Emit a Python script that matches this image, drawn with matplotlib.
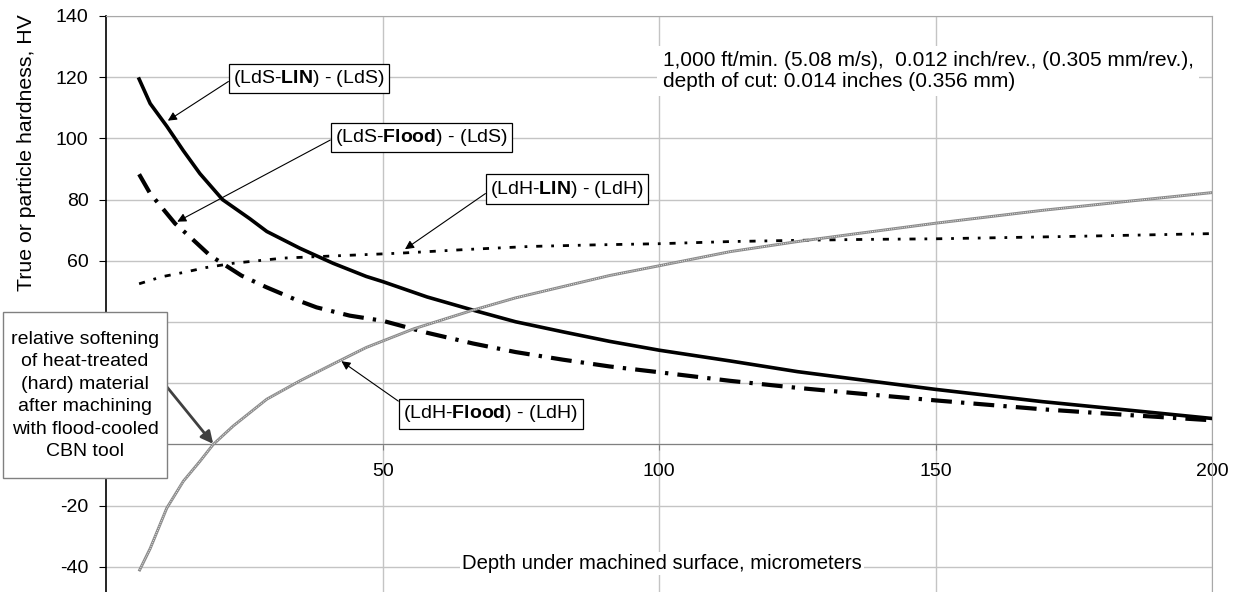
import matplotlib
matplotlib.use('Agg')
import matplotlib.pyplot as plt
from matplotlib.patches import Rectangle

plt.rcParams['font.family'] = ['Liberation Sans', 'DejaVu Sans']
plt.rcParams['mathtext.fontset'] = 'custom'
plt.rcParams['mathtext.rm'] = 'Liberation Sans'
plt.rcParams['mathtext.bf'] = 'Liberation Sans:bold'
plt.rcParams['axes.unicode_minus'] = False

# values (depth in micrometers, hardness difference in HV)
lds_lin_x = [5.9, 7.9, 10.9, 13.9, 16.9, 21, 25.9, 29, 35, 41, 47, 50, 58, 66.3, 74,
             82.6, 91, 100, 112.8, 125, 137, 150, 169.3, 185, 200]
lds_lin_y = [119.4, 111.4, 104, 96, 88.5, 80, 73.8, 69.6, 64.1, 59.2, 54.9, 53.2, 48.2,
             43.9, 40.1, 36.8, 33.7, 30.8, 27.3, 23.8, 21, 18.0, 14.0, 11.2, 8.5]

lds_flood_x = [5.9, 7.9, 10.3, 12.4, 15, 18.7, 24.4, 28.9, 34, 38, 44, 50, 58, 66.3, 74,
               82.6, 91, 100, 112.8, 125, 137, 150, 169.3, 185, 200]
lds_flood_y = [88.3, 82, 76.8, 72.2, 68, 61.8, 55.2, 51.4, 47.5, 44.8, 42.1, 40.4, 36.5,
               33, 30.2, 27.7, 25.5, 23.6, 20.8, 18.5, 16.5, 14.4, 11.5, 9.6, 7.9]

ldh_lin_x = [5.9, 10, 13.9, 18, 22.9, 32, 41, 53, 65, 76.6, 88, 100, 112.8, 125, 137,
             150, 175, 200]
ldh_lin_y = [52.5, 54.8, 56.2, 57.8, 59.2, 60.9, 61.6, 62.5, 63.7, 64.7, 65.2, 65.6,
             66.3, 66.7, 67.0, 67.2, 68.0, 68.9]

ldh_flood_x = [6, 7.9, 10.9, 13.9, 16.9, 19.3, 22.9, 29, 35, 41, 47, 55.6, 66.3, 74,
               82.6, 91, 100, 112.8, 125, 132, 150, 169.3, 185, 200]
ldh_flood_y = [-41, -34, -20.8, -12, -5.5, 0, 6, 14.8, 20.8, 26.3, 31.7, 37.8, 43.9,
               47.9, 51.6, 55.2, 58.4, 63, 66.3, 68, 72.3, 76.5, 79.5, 82.3]

xticks = [50, 100, 150, 200]
yticks = list(range(-40, 141, 20))
# 0, 20 and 40 sit behind the note box in the original
ytick_labels = ['' if v in (0, 20, 40) else str(v) for v in yticks]

FS = 14
W, H = 1237, 592

fig = plt.figure(figsize=(W / 100, H / 100), dpi=100)
ax = fig.add_axes([106.5 / W, 0, (1212 - 106.5) / W, 576 / H])
ax.set_xlim(0, 200)
ax.set_ylim(-48.2, 140)

ax.set_xticks(xticks)
ax.set_yticks(yticks)
ax.set_yticklabels(ytick_labels)
ax.grid(True, color='#c4c4c4', lw=1.0)
ax.set_axisbelow(True)

ax.spines['bottom'].set_position(('data', 0))
ax.spines['bottom'].set_color('#808080')
ax.spines['left'].set_color('black')
ax.spines['left'].set_linewidth(1.2)
ax.spines['top'].set_color('#a8a8a8')
ax.spines['right'].set_color('#a8a8a8')
ax.tick_params(axis='x', direction='out', length=4.5, pad=9, colors='#808080',
               labelcolor='black', labelsize=FS)
ax.tick_params(axis='y', direction='out', length=5, pad=8, labelsize=FS)

# curves
ax.plot(lds_lin_x, lds_lin_y, color='black', lw=2.6, zorder=4)
ax.plot(lds_flood_x, lds_flood_y, color='black', lw=3.0, zorder=4,
        linestyle=(0, (5, 2.2, 0.8, 2.2)))
ax.plot(ldh_lin_x, ldh_lin_y, color='black', lw=2.0, zorder=4,
        linestyle=(0, (2.2, 3.2, 1, 3.2)))
ax.plot(ldh_flood_x, ldh_flood_y, color='#8a8a8a', lw=2.1, zorder=4)
ax.plot(ldh_flood_x, ldh_flood_y, color='#e6e6e6', lw=0.7, zorder=4,
        linestyle=(0, (1, 1.2)))

box = dict(boxstyle='square,pad=0.22', fc='white', ec='black', lw=0.9)
arrow = dict(arrowstyle='-|>', color='black', lw=0.8, mutation_scale=13,
             shrinkA=0, shrinkB=0)

ax.annotate('(LdS-$\\mathbf{LIN}$) - (LdS)', xy=(11.1, 105.8), xytext=(36.6, 119.6),
            fontsize=FS, ha='center', va='center', bbox=box,
            arrowprops=dict(arrow, relpos=(0, 0.5)), zorder=6)
ax.annotate('(LdS-$\\mathbf{Flood}$) - (LdS)', xy=(12.8, 72.8), xytext=(57, 100.3),
            fontsize=FS, ha='center', va='center', bbox=box,
            arrowprops=dict(arrow, relpos=(0, 0.5)), zorder=6)
ax.annotate('(LdH-$\\mathbf{LIN}$) - (LdH)', xy=(54, 63.8), xytext=(83.3, 83.4),
            fontsize=FS, ha='center', va='center', bbox=box,
            arrowprops=dict(arrow, relpos=(0, 0.45)), zorder=6)
ax.annotate('(LdH-$\\mathbf{Flood}$) - (LdH)', xy=(42.5, 27.2), xytext=(69.5, 10),
            fontsize=FS, ha='center', va='center', bbox=box,
            arrowprops=dict(arrow, relpos=(0, 0.95)), zorder=6)

# note box on the left, drawn over the axis
ax.annotate('', xy=(19.3, 0.2), xytext=(167 / W, 1 - 387 / H),
            textcoords='figure fraction',
            arrowprops=dict(arrowstyle='-|>', color='#404040', lw=2.0,
                            mutation_scale=18, shrinkA=0, shrinkB=0))
fig.add_artist(Rectangle((3 / W, 1 - 478 / H), 164 / W, 166 / H,
                         transform=fig.transFigure, fc='white', ec='#808080',
                         lw=1.0, zorder=2))
fig.text(85 / W, 1 - 395.5 / H,
         'relative softening\nof heat-treated\n(hard) material\nafter machining\nwith flood-cooled\nCBN tool',
         fontsize=FS, ha='center', va='center', linespacing=1.43, zorder=3)

ax.text(100.6, 122, '1,000 ft/min. (5.08 m/s),  0.012 inch/rev., (0.305 mm/rev.),\n'
        'depth of cut: 0.014 inches (0.356 mm)', fontsize=15, ha='left',
        va='center', linespacing=1.1,
        bbox=dict(boxstyle='square,pad=0.25', fc='white', ec='none'), zorder=5)

ax.text(100.5, -39, 'Depth under machined surface, micrometers', fontsize=14.6,
        ha='center', va='center',
        bbox=dict(boxstyle='square,pad=0.1', fc='white', ec='none'), zorder=5)

fig.text(27 / W, 1 - 153 / H, 'True or particle hardness, HV', rotation=90,
         fontsize=15.3, ha='center', va='center')

fig.savefig('out.png', dpi=100)
